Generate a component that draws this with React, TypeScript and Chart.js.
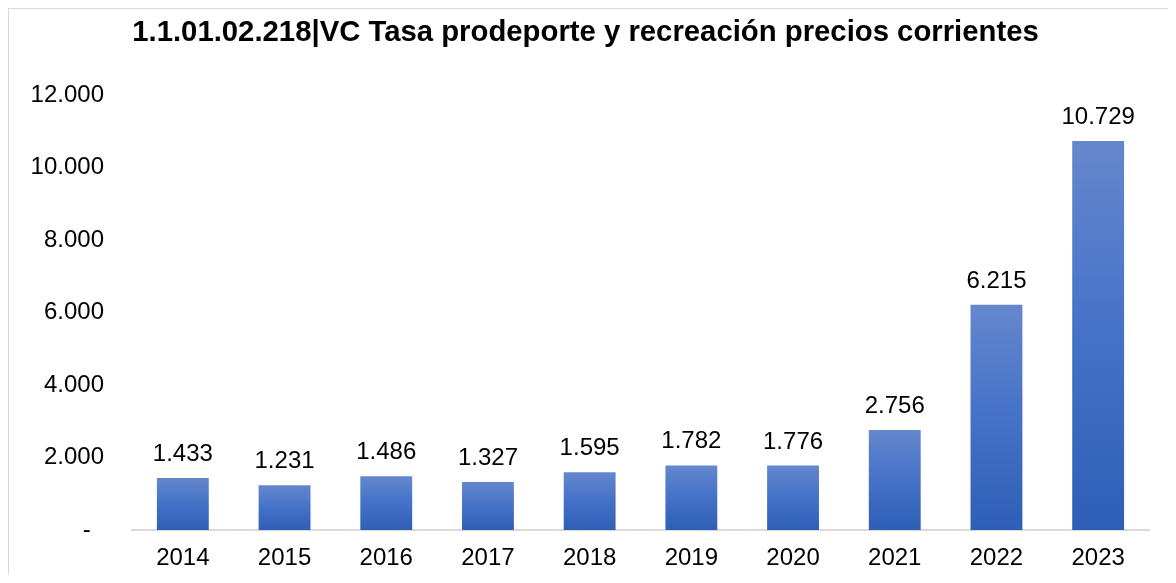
import React, { useEffect, useRef } from "react";
import { Chart, registerables } from "chart.js";

Chart.register(...registerables);

const TITLE = "1.1.01.02.218|VC Tasa prodeporte y recreación precios corrientes";
const YEARS = ["2014", "2015", "2016", "2017", "2018", "2019", "2020", "2021", "2022", "2023"];
const VALUES = [1433, 1231, 1486, 1327, 1595, 1782, 1776, 2756, 6215, 10729];
const Y_MAX = 12000;
const Y_STEP = 2000;

const FONT = "'Liberation Sans', Arial, sans-serif";

function fmt(v: number): string {
  return String(Math.round(v)).replace(/\B(?=(\d{3})+(?!\d))/g, ".");
}

const labelPlugin = {
  id: "barLabels",
  afterDatasetsDraw(chart: any) {
    const ctx = chart.ctx;
    const meta = chart.getDatasetMeta(0);
    ctx.save();
    ctx.font = `24px ${FONT}`;
    ctx.fillStyle = "#000000";
    ctx.textAlign = "center";
    ctx.textBaseline = "alphabetic";
    meta.data.forEach((bar: any, i: number) => {
      ctx.fillText(fmt(VALUES[i]), bar.x, bar.y - 17);
    });
    ctx.restore();
  },
};

export default function App() {
  const ref = useRef<HTMLCanvasElement>(null);

  useEffect(() => {
    if (!ref.current) return;
    const chart = new Chart(ref.current, {
      type: "bar",
      data: {
        labels: YEARS,
        datasets: [
          {
            data: VALUES,
            barPercentage: 0.51,
            categoryPercentage: 1,
            borderWidth: 0,
            backgroundColor: (c: any) => {
              const ch = c.chart;
              const y = ch.scales?.y;
              if (!y || typeof c.raw !== "number") return "#4472c4";
              const top = y.getPixelForValue(c.raw);
              const bottom = y.getPixelForValue(0);
              if (!isFinite(top) || !isFinite(bottom) || top === bottom) return "#4472c4";
              const g = ch.ctx.createLinearGradient(0, top, 0, bottom);
              g.addColorStop(0, "#6587cd");
              g.addColorStop(0.5, "#4472c8");
              g.addColorStop(1, "#2f5eb6");
              return g;
            },
          },
        ],
      },
      options: {
        animation: false,
        responsive: true,
        maintainAspectRatio: false,
        layout: { padding: { left: 13, right: 19, top: 0, bottom: 0 } },
        plugins: {
          legend: { display: false },
          tooltip: { enabled: false },
          title: {
            display: true,
            text: TITLE,
            color: "#000000",
            font: { family: FONT, size: 29.3, weight: "bold", lineHeight: 1.2 },
            padding: { top: 6.4, bottom: 44.4 },
          },
        },
        scales: {
          x: {
            grid: { display: false, drawTicks: false },
            border: { display: true, color: "#d9d9d9", width: 2 },
            ticks: {
              color: "#000000",
              font: { family: FONT, size: 24, lineHeight: 1.2 },
              padding: 14,
              maxRotation: 0,
            },
            afterFit: (s: any) => {
              s.height = 45;
            },
          },
          y: {
            min: 0,
            max: Y_MAX,
            grid: { display: false, drawTicks: false },
            border: { display: false },
            ticks: {
              stepSize: Y_STEP,
              color: "#000000",
              font: { family: FONT, size: 24, lineHeight: 1.2 },
              padding: 28,
              callback: (v: any) => (Number(v) === 0 ? "-  " : fmt(Number(v))),
            },
            afterFit: (s: any) => {
              s.width = 110;
            },
          },
        },
      },
      plugins: [labelPlugin],
    });
    return () => chart.destroy();
  }, []);

  return (
    <div style={{ height: 567, overflow: "hidden" }}>
      <div
        style={{
          marginLeft: -1,
          marginTop: -1,
          borderLeft: "2px solid #d9d9d9",
          borderTop: "2px solid #d9d9d9",
          width: 1200,
          height: 600,
          background: "#ffffff",
        }}
      >
        <div style={{ position: "relative", width: 1159, height: 566 }}>
          <canvas ref={ref} />
        </div>
      </div>
    </div>
  );
}
